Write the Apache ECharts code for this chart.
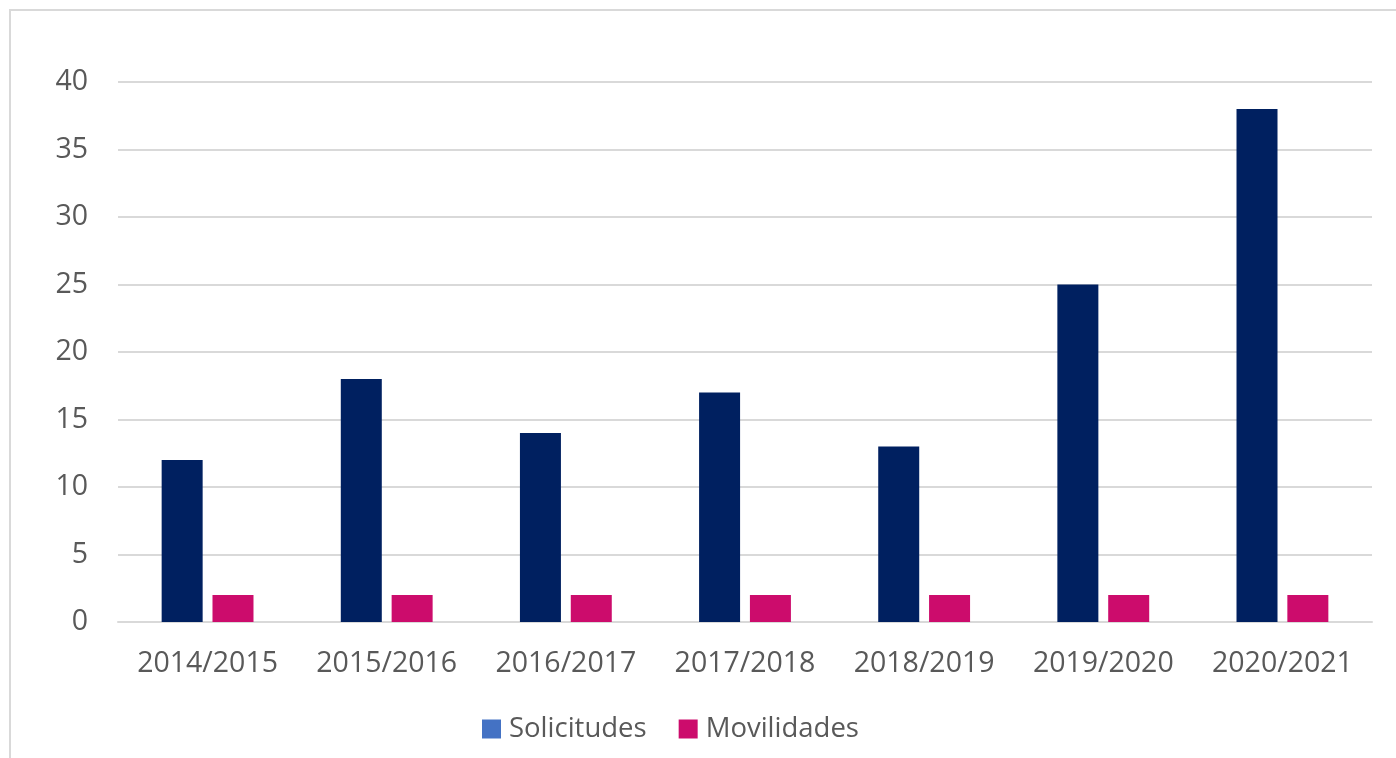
<!DOCTYPE html>
<html>
<head>
<meta charset="utf-8">
<script src="https://cdn.jsdelivr.net/npm/echarts@6/dist/echarts.min.js"></script>
<style>
html,body{margin:0;padding:0;width:1396px;height:758px;overflow:hidden;background:#fff;}
#frame{position:absolute;left:9px;top:9px;width:1500px;height:900px;border:2px solid #d9d9d9;box-sizing:border-box;}
#chart{position:absolute;left:0;top:0;width:1396px;height:758px;}
</style>
</head>
<body>
<div id="frame"></div>
<div id="chart"></div>
<script>
const categories = ['2014/2015','2015/2016','2016/2017','2017/2018','2018/2019','2019/2020','2020/2021'];
const solicitudes = [12, 18, 14, 17, 13, 25, 38];
const movilidades = [2, 2, 2, 2, 2, 2, 2];
const yTicks = {min: 0, max: 40, interval: 5};

const font = '"Open Sans", sans-serif';
const chart = echarts.init(document.getElementById('chart'));
chart.setOption({
  animation: false,
  textStyle: {fontFamily: font},
  grid: {left: 118, right: 24, top: 82, bottom: 136},
  legend: {
    bottom: 10,
    left: 477,
    itemWidth: 19, itemHeight: 19, itemGap: 32,
    icon: 'rect',
    textStyle: {color: '#595959', fontSize: 27.5, fontFamily: font, padding: [0,0,0,3]},
    data: [
      {name: 'Solicitudes', itemStyle: {color: '#4472C4'}},
      {name: 'Movilidades', itemStyle: {color: '#CC0C6C'}}
    ]
  },
  xAxis: {
    type: 'category',
    data: categories,
    axisLine: {lineStyle: {color: '#d9d9d9', width: 2}},
    axisTick: {show: false},
    axisLabel: {color: '#595959', fontSize: 28.5, fontFamily: font, margin: 27, interval: 0}
  },
  yAxis: {
    type: 'value',
    min: yTicks.min, max: yTicks.max, interval: yTicks.interval,
    axisLine: {show: false},
    axisTick: {show: false},
    axisLabel: {color: '#595959', fontSize: 28.5, fontFamily: font, margin: 30},
    splitLine: {lineStyle: {color: '#d9d9d9', width: 2}}
  },
  series: [
    {name: 'Solicitudes', type: 'bar', data: solicitudes, barWidth: 41, barGap: '24%',
     itemStyle: {color: '#002060'}},
    {name: 'Movilidades', type: 'bar', data: movilidades, barWidth: 41,
     itemStyle: {color: '#CC0C6C'}}
  ]
});
</script>
</body>
</html>
